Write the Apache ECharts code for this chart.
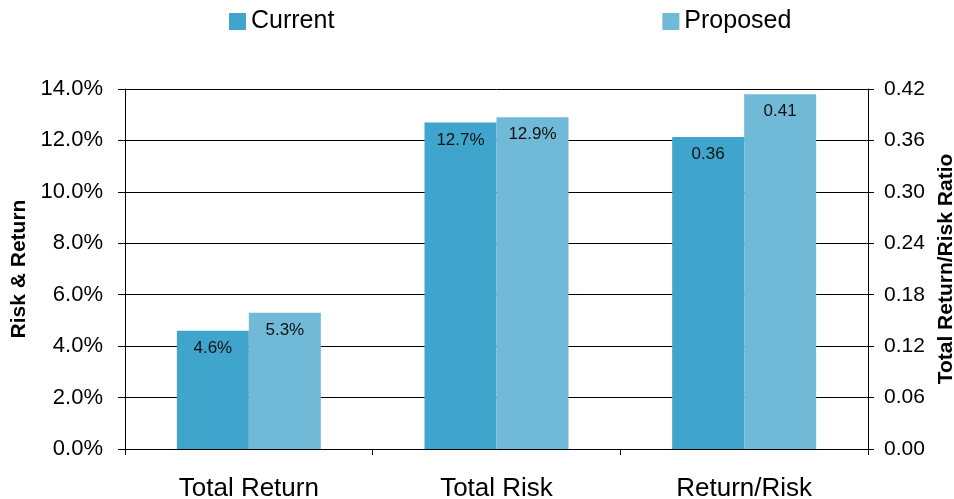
<!DOCTYPE html>
<html>
<head>
<meta charset="utf-8">
<script src="https://cdn.jsdelivr.net/npm/echarts@6/dist/echarts.min.js"></script>
<style>html,body{margin:0;padding:0;background:#fff}#c{width:954px;height:499px}</style>
</head>
<body>
<div id="c"></div>
<script>
// ---- data ----
const categories = ['Total Return', 'Total Risk', 'Return/Risk'];
const seriesNames = ['Current', 'Proposed'];
const currentPct = [4.6, 12.7];        // % values on left axis
const proposedPct = [5.3, 12.9];
const currentRatio = 0.364;            // ratio on right axis (shown as 0.36)
const proposedRatio = 0.414;           // shown as 0.41
const leftTicks = {min: 0, max: 14, interval: 2};
const rightTicks = {min: 0, max: 0.42, interval: 0.06};

const colors = ['#40A5CC', '#70BAD8'];
const font = '"Liberation Sans", Arial, sans-serif';

function pctSeries(name, vals, color) {
  return {
    name: name, type: 'bar', stack: name, yAxisIndex: 0,
    barWidth: 72, barGap: '0%',
    itemStyle: {color: color},
    data: [vals[0], vals[1], null],
    label: {show: true, position: 'insideTop', distance: 9, color: '#111',
      fontFamily: font, fontSize: 17,
      formatter: p => p.value == null ? '' : p.value.toFixed(1) + '%'}
  };
}
function ratioSeries(name, v, color) {
  return {
    name: name, type: 'bar', stack: name, yAxisIndex: 1,
    barWidth: 72, barGap: '0%',
    itemStyle: {color: color},
    data: [null, null, v],
    label: {show: true, position: 'insideTop', distance: 9, color: '#111',
      fontFamily: font, fontSize: 17,
      formatter: p => p.value == null ? '' : p.value.toFixed(2)}
  };
}

const chart = echarts.init(document.getElementById('c'), null, {renderer: 'canvas'});
chart.setOption({
  animation: false,
  backgroundColor: '#fff',
  legend: {
    data: seriesNames, left: 229, top: 9, padding: 0, itemGap: 328,
    itemWidth: 17, itemHeight: 17, icon: 'rect',
    textStyle: {fontFamily: font, fontSize: 25, color: '#000'}
  },
  grid: {left: 125, right: 86, top: 89, bottom: 50, containLabel: false, outerBoundsMode: 'none'},
  xAxis: {
    type: 'category', data: categories,
    axisLine: {lineStyle: {color: '#000', width: 1}},
    axisTick: {show: true, length: 6, lineStyle: {color: '#000'}},
    axisLabel: {fontFamily: font, fontSize: 26, color: '#000', margin: 27}
  },
  yAxis: [{
    type: 'value', min: leftTicks.min, max: leftTicks.max, interval: leftTicks.interval,
    name: 'Risk & Return', nameLocation: 'middle', nameRotate: 90, nameGap: 91,
    nameTextStyle: {fontFamily: font, fontSize: 21, fontWeight: 'bold', color: '#000'},
    axisLine: {show: true, lineStyle: {color: '#000'}},
    axisTick: {show: true, length: 7, lineStyle: {color: '#000'}},
    splitLine: {show: true, lineStyle: {color: '#000', width: 1}},
    axisLabel: {fontFamily: font, fontSize: 22, color: '#000', margin: 22,
      formatter: v => v.toFixed(1) + '%'}
  }, {
    type: 'value', position: 'right', min: rightTicks.min, max: rightTicks.max, interval: rightTicks.interval,
    name: 'Total Return/Risk Ratio', nameLocation: 'middle', nameRotate: 90, nameGap: 66,
    nameTextStyle: {fontFamily: font, fontSize: 21, fontWeight: 'bold', color: '#000'},
    axisLine: {show: true, lineStyle: {color: '#000'}},
    axisTick: {show: true, length: 6, lineStyle: {color: '#000'}},
    splitLine: {show: false},
    axisLabel: {fontFamily: font, fontSize: 21, color: '#000', margin: 16,
      formatter: v => v.toFixed(2)}
  }],
  series: [
    pctSeries(seriesNames[0], currentPct, colors[0]),
    pctSeries(seriesNames[1], proposedPct, colors[1]),
    ratioSeries(seriesNames[0], currentRatio, colors[0]),
    ratioSeries(seriesNames[1], proposedRatio, colors[1])
  ]
});
</script>
</body>
</html>
